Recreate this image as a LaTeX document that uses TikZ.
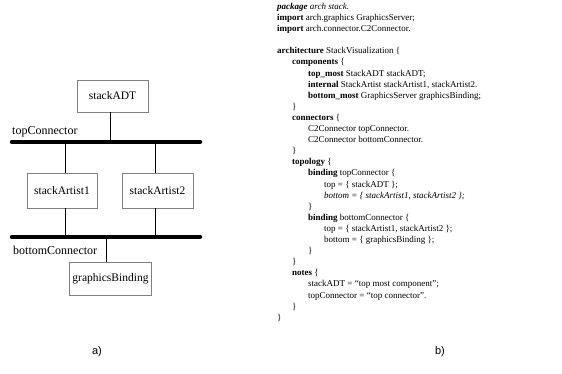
\documentclass[tikz,border=0pt]{standalone}
\usepackage{fontspec}
\setmainfont{Liberation Serif}
\newfontfamily\labelsans{Liberation Sans}
\begin{document}
\begin{tikzpicture}[x=1pt,y=1pt,
  comp/.style={draw=black!50, line width=0.5pt, inner sep=0pt, font=\fontsize{11.5}{13}\selectfont},
  bus/.style={line width=4.5pt, line cap=round},
  wire/.style={line width=0.6pt},
  lbl/.style={inner sep=0pt, anchor=west, font=\fontsize{12}{13}\selectfont},
  code/.style={anchor=base west, inner sep=0pt, font=\fontsize{9}{11}\selectfont},
  captxt/.style={inner sep=0pt, font=\labelsans\fontsize{11}{13}\selectfont}]
\useasboundingbox (0,0) rectangle (562,374);
% ---------- a) ----------
\node[comp, minimum width=71, minimum height=32] (adt) at (112.5,278) {stackADT};
\node[comp, minimum width=70, minimum height=35] (sa1) at (62,183.5) {stackArtist1};
\node[comp, minimum width=71, minimum height=35] (sa2) at (157.5,183.5) {stackArtist2};
\node[comp, minimum width=82, minimum height=33] (gb) at (110.5,95.5) {graphicsBinding};
\coordinate (tL) at (12,232);
\coordinate (tR) at (200,232);
\coordinate (bL) at (12,137);
\coordinate (bR) at (200,137);
\draw[bus] (tL) -- (tR);
\draw[bus] (bL) -- (bR);
\node[lbl] (tcl) at (12,242) {topConnector};
\node[lbl] (bcl) at (13,124) {bottomConnector};
\coordinate (t0) at (110,232);
\coordinate (t1) at (65,232);
\coordinate (t2) at (155,232);
\coordinate (b0) at (106,137);
\coordinate (b1) at (65,137);
\coordinate (b2) at (155,137);
\draw[wire] (t0) -- (t0 |- adt.south);
\draw[wire] (t1) -- (t1 |- sa1.north);
\draw[wire] (t2) -- (t2 |- sa2.north);
\draw[wire] (b1) -- (b1 |- sa1.south);
\draw[wire] (b2) -- (b2 |- sa2.south);
\draw[wire] (b0) -- (b0 |- gb.north);
\node[captxt] (capa) at (97,22) {a)};
% ---------- b) ----------
\node[code] (c1) at (277,364.5) {\textbf{\textit{package}} \textit{arch stack.}};
\node[code] (c2) at (277,353.4) {\textbf{import} arch.graphics GraphicsServer;};
\node[code] (c3) at (277,342.3) {\textbf{import} arch.connector.C2Connector.};
\node[code] (c5) at (277,320.1) {\textbf{architecture} StackVisualization \{};
\node[code] (c6) at (292,309.0) {\textbf{components} \{};
\node[code] (c7) at (308,297.9) {\textbf{top\_most} StackADT stackADT;};
\node[code] (c8) at (308,286.8) {\textbf{internal} StackArtist stackArtist1, stackArtist2.};
\node[code] (c9) at (308,275.7) {\textbf{bottom\_most} GraphicsServer graphicsBinding;};
\node[code] (c10) at (292,264.6) {\}};
\node[code] (c11) at (292,253.5) {\textbf{connectors} \{};
\node[code] (c12) at (308,242.4) {C2Connector topConnector.};
\node[code] (c13) at (308,231.3) {C2Connector bottomConnector.};
\node[code] (c14) at (292,220.2) {\}};
\node[code] (c15) at (292,209.1) {\textbf{topology} \{};
\node[code] (c16) at (308,198.0) {\textbf{binding} topConnector \{};
\node[code] (c17) at (324,186.9) {top = \{ stackADT \};};
\node[code] (c18) at (324,175.8) {\textit{bottom = \{ stackArtist1, stackArtist2 \};}};
\node[code] (c19) at (308,164.7) {\}};
\node[code] (c20) at (308,153.6) {\textbf{binding} bottomConnector \{};
\node[code] (c21) at (324,142.5) {top = \{ stackArtist1, stackArtist2 \};};
\node[code] (c22) at (324,131.4) {bottom = \{ graphicsBinding \};};
\node[code] (c23) at (308,120.3) {\}};
\node[code] (c24) at (292,109.2) {\}};
\node[code] (c25) at (292,98.1) {\textbf{notes} \{};
\node[code] (c26) at (308,87.0) {stackADT = “top most component”;};
\node[code] (c27) at (308,75.9) {topConnector = “top connector”.};
\node[code] (c28) at (292,64.8) {\}};
\node[code] (c29) at (277,53.7) {\}};
\node[captxt] (capb) at (440,22) {b)};
\end{tikzpicture}
\end{document}
